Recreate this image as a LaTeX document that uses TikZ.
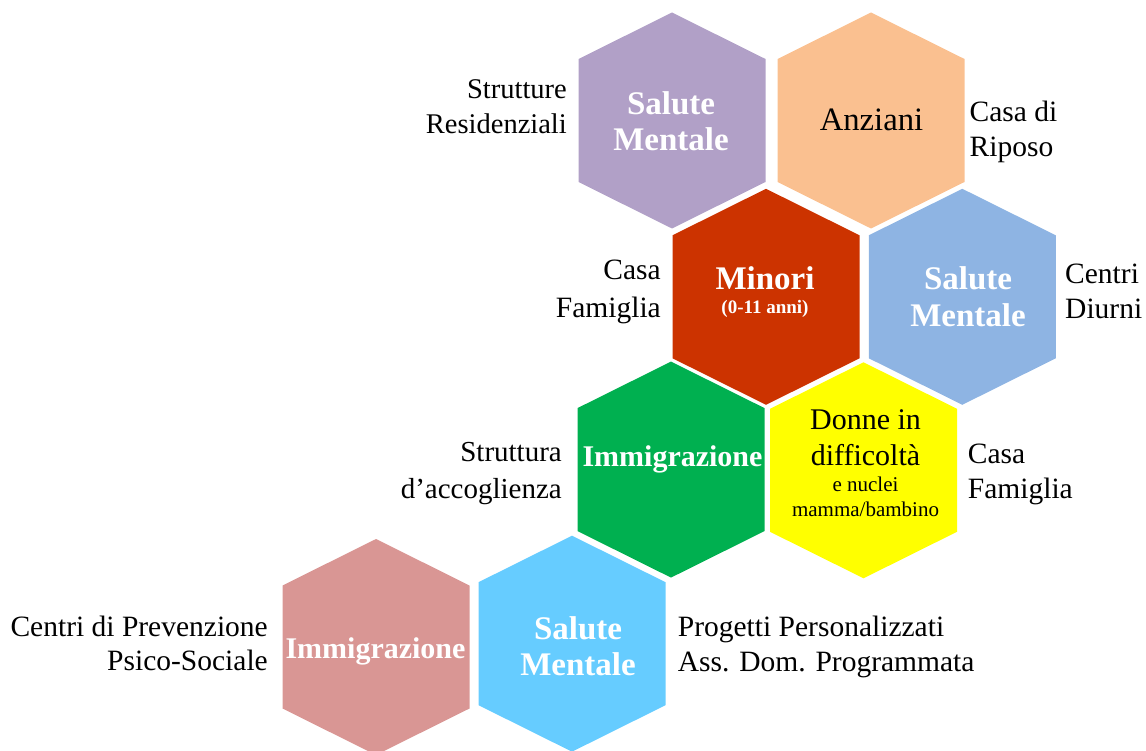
\documentclass[tikz,border=0pt]{standalone}
\usepackage{fontspec}
\setmainfont{Liberation Serif}

\definecolor{hexlilac}{HTML}{B1A0C7}
\definecolor{hexpeach}{HTML}{FAC090}
\definecolor{hexbrick}{HTML}{CC3300}
\definecolor{hexsteel}{HTML}{8EB4E3}
\definecolor{hexgreen}{HTML}{00B050}
\definecolor{hexyellow}{HTML}{FFFF00}
\definecolor{hexrose}{HTML}{D99694}
\definecolor{hexsky}{HTML}{66CCFF}

% hexagonal cell centred at (#1,#2), filled with colour #3
\newcommand{\hexcell}[3]{%
  \fill[#3, shift={(#1,#2)}] (0,-108) -- (93.5,-61.5) -- (93.5,61.5)
    -- (0,108) -- (-93.5,61.5) -- (-93.5,-61.5) -- cycle;}

\begin{document}
\begin{tikzpicture}[x=1pt, y=-1pt,
  celltitle/.style={inner sep=0pt, anchor=base, text=white,
    font=\bfseries\fontsize{33}{36}\selectfont},
  cellplain/.style={inner sep=0pt, anchor=base, text=black,
    font=\fontsize{32.7}{36}\selectfont},
  sidelabel/.style={inner sep=0pt, text=black,
    font=\fontsize{29.5}{35}\selectfont},
]
\useasboundingbox (0,0) rectangle (1146,751);

% cells
\hexcell{672}{120.5}{hexlilac}
\hexcell{871}{120.5}{hexpeach}
\hexcell{766}{296.8}{hexbrick}
\hexcell{962.3}{296.8}{hexsteel}
\hexcell{671}{469.6}{hexgreen}
\hexcell{863.5}{470.3}{hexyellow}
\hexcell{376}{647}{hexrose}
\hexcell{572}{643.7}{hexsky}

% cell titles
\node[celltitle] (mentalres) at (671,115)
  {\begin{tabular}[t]{@{}c@{}}Salute\\Mentale\end{tabular}};
\node[cellplain] (anziani) at (871.5,131) {Anziani};
\node[celltitle] (minori) at (765,290)
  {\begin{tabular}[t]{@{}c@{}}Minori\\[-12.7pt]{\fontsize{19}{22}\selectfont (0-11 anni)}\end{tabular}};
\node[celltitle] (mentaldiurni) at (968,290)
  {\begin{tabular}[t]{@{}c@{}}Salute\\[0.7pt]Mentale\end{tabular}};
\node[celltitle, font=\bfseries\fontsize{30}{36}\selectfont] (immigrA) at (672.5,466.7) {Immigrazione};
\node[cellplain, font=\fontsize{30}{36}\selectfont] (donne) at (865.5,429)
  {\begin{tabular}[t]{@{}c@{}}Donne in\\difficoltà\\[-9.3pt]%
   {\fontsize{21}{25}\selectfont e nuclei}\\[-11pt]%
   {\fontsize{21}{25}\selectfont mamma/bambino}\end{tabular}};
\node[celltitle, font=\bfseries\fontsize{30}{36}\selectfont] (immigrB) at (375.5,658.3) {Immigrazione};
\node[celltitle] (mentalprog) at (578,639.3)
  {\begin{tabular}[t]{@{}c@{}}Salute\\[-0.3pt]Mentale\end{tabular}};

% service labels beside the cells
\node[sidelabel, anchor=base east, font=\fontsize{28.5}{35}\selectfont] (residenziali) at (567,98.3)
  {\begin{tabular}[t]{@{}r@{}}Strutture\\Residenziali\end{tabular}};
\node[sidelabel, anchor=base west] (riposo) at (969.5,121.7)
  {\begin{tabular}[t]{@{}l@{}}Casa di\\Riposo\end{tabular}};
\node[sidelabel, anchor=base east] (famigliaA) at (661,280)
  {\begin{tabular}[t]{@{}r@{}}Casa\\[3pt]Famiglia\end{tabular}};
\node[sidelabel, anchor=base west] (diurni) at (1065,283.3)
  {\begin{tabular}[t]{@{}l@{}}Centri\\Diurni\end{tabular}};
\node[sidelabel, anchor=base east, font=\fontsize{29}{35}\selectfont] (accoglienza) at (562,461.7)
  {\begin{tabular}[t]{@{}r@{}}Struttura\\[1.3pt]d’accoglienza\end{tabular}};
\node[sidelabel, anchor=base west] (famigliaB) at (967.7,463.3)
  {\begin{tabular}[t]{@{}l@{}}Casa\\Famiglia\end{tabular}};
\node[sidelabel, anchor=base east] (prevenzione) at (268,636.7)
  {\begin{tabular}[t]{@{}r@{}}Centri di Prevenzione\\[-1pt]Psico-Sociale\end{tabular}};
\node[sidelabel, anchor=base west] (progetti) at (677.7,636.7)
  {\begin{tabular}[t]{@{}l@{}}Progetti Personalizzati\\Ass. Dom. Programmata\end{tabular}};
\end{tikzpicture}
\end{document}
